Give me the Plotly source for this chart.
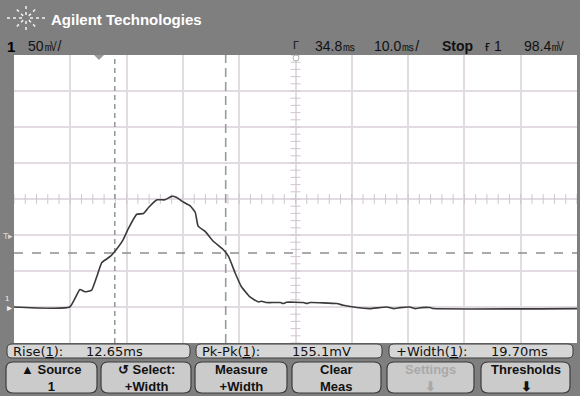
import plotly.graph_objects as go
import numpy as np

time_ms = [-15.2, -5.3, -3.5, -2.6, -1.4, -0.5, 0.4, 1.9, 2.7, 4.2, 5.1, 6.6, 7.8,
           8.7, 10.2, 11.6, 12.8, 13.7, 14.6, 16.1, 17.0, 17.5, 18.7, 20.2, 22.0,
           22.9, 24.1, 25.2, 26.7, 28.2, 28.8, 29.7, 32.1, 32.6, 33.2, 36.2, 36.8,
           37.4, 42.1, 43.3, 45.7, 48.0, 51.0, 52.2, 53.4, 55.1, 56.0, 57.2, 58.7,
           59.3, 84.8]
volt_mv = [0, 0, 24.4, 21.1, 23.5, 42.1, 61.8, 70.2, 77.2, 93.7, 108.7, 128.8, 129.8,
           138.2, 148.9, 148.9, 153.7, 152.2, 147.0, 140.4, 131.2, 112.4, 105.3, 91.3, 79.6,
           70.2, 46.9, 28.1, 14.0, 7.0, 8.0, 6.2, 6.2, 4.8, 6.6, 6.2, 4.8,
           6.2, 4.8, 2.4, -0.8, -2.2, 0, -2.2, -0.8, 0, -2.2, -0.8, -0.8,
           -2.2, -2.2]
cursor_times_ms = [2.7, 22.4]
threshold_mv = 75
trigger_level_mv = 98.4
delay_ms = 34.8
time_per_div = 10.0
volts_per_div = 50

title_text = "Agilent Technologies"
status_labels = ["50㎷/", "34.8㎳", "10.0㎳/", "Stop", "ғ 1", "98.4㎷"]
meas_labels = ["Rise(<u>1</u>):", "Pk-Pk(<u>1</u>):", "+Width(<u>1</u>):"]
meas_values = ["12.65ms", "155.1mV", "19.70ms"]
softkey_labels = ["▲ Source<br>1", "↺ Select:<br>+Width", "Measure<br>+Width",
                  "Clear<br>Meas", "Settings<br>⬇", "Thresholds<br>⬇"]

# ---------------- layout geometry (pixels) ----------------
W, H = 580, 396
L, R, T, B = 14, 577, 55, 343


def px(x):
    return (x - L) / (R - L)


def py(y):
    return (B - y) / (B - T)


def rrect(x0, y0, x1, y1, r):
    pts = [
        f"M {px(x0 + r)},{py(y0)}", f"L {px(x1 - r)},{py(y0)}",
        f"Q {px(x1)},{py(y0)} {px(x1)},{py(y0 + r)}", f"L {px(x1)},{py(y1 - r)}",
        f"Q {px(x1)},{py(y1)} {px(x1 - r)},{py(y1)}", f"L {px(x0 + r)},{py(y1)}",
        f"Q {px(x0)},{py(y1)} {px(x0)},{py(y1 - r)}", f"L {px(x0)},{py(y0 + r)}",
        f"Q {px(x0)},{py(y0)} {px(x0 + r)},{py(y0)}", "Z",
    ]
    return " ".join(pts)


x_lo = delay_ms - 5 * time_per_div
x_hi = delay_ms + 5 * time_per_div
y_lo = -1 * volts_per_div
y_hi = 7 * volts_per_div
x_c = delay_ms
y_c = (y_lo + y_hi) / 2


def ypix(v):
    return B - (v - y_lo) / (y_hi - y_lo) * (B - T)


fig = go.Figure()

# minor ticks on center graticule lines
hx = np.arange(x_lo, x_hi + 0.01, time_per_div / 5)
fig.add_trace(go.Scatter(x=hx, y=[y_c] * len(hx), mode="markers",
                         marker=dict(symbol="line-ns", size=7, line=dict(width=1, color="#cfc6cf")),
                         hoverinfo="skip", showlegend=False))
vy = np.arange(y_lo, y_hi + 0.01, volts_per_div / 5)
fig.add_trace(go.Scatter(x=[x_c] * len(vy), y=vy, mode="markers",
                         marker=dict(symbol="line-ew", size=7, line=dict(width=1, color="#cfc6cf")),
                         hoverinfo="skip", showlegend=False))

# threshold & cursors
fig.add_trace(go.Scatter(x=[x_lo, x_hi], y=[threshold_mv, threshold_mv], mode="lines",
                         line=dict(color="#8f8f8f", width=1.6, dash="9px,9px"),
                         hoverinfo="skip", showlegend=False))
fig.add_trace(go.Scatter(x=[cursor_times_ms[0]] * 2, y=[y_lo, y_hi], mode="lines",
                         line=dict(color="#9a9a9a", width=1.6, dash="5px,4px"),
                         hoverinfo="skip", showlegend=False))
fig.add_trace(go.Scatter(x=[cursor_times_ms[1]] * 2, y=[y_lo, y_hi], mode="lines",
                         line=dict(color="#9a9a9a", width=1.6, dash="9px,5px"),
                         hoverinfo="skip", showlegend=False))

# waveform
fig.add_trace(go.Scatter(x=time_ms, y=volt_mv, mode="lines",
                         line=dict(color="#3a3a3a", width=1.6, shape="spline", smoothing=0.4),
                         showlegend=False))

fig.update_layout(
    width=W, height=H,
    margin=dict(l=L, r=W - R, t=T, b=H - B),
    paper_bgcolor="#7f7f7f", plot_bgcolor="#ffffff",
    xaxis=dict(range=[x_lo, x_hi], tick0=delay_ms, dtick=time_per_div, showticklabels=False,
               showgrid=True, gridcolor="#e2dbe2", gridwidth=1.6, zeroline=False, ticks=""),
    yaxis=dict(range=[y_lo, y_hi], tick0=0, dtick=volts_per_div, showticklabels=False,
               showgrid=True, gridcolor="#e2dbe2", gridwidth=1.6, zeroline=False, ticks=""),
)

shapes = []
# bottom measurement bar boxes
meas_boxes = [(7, 344, 190, 358), (196, 344, 382, 358), (389, 344, 573, 358)]
for (a, b_, c, d) in meas_boxes:
    shapes.append(dict(type="path", path=rrect(a, b_, c, d, 5), xref="paper", yref="paper",
                       fillcolor="#d6d6d6", line=dict(color="#3c3c3c", width=1)))
# softkeys
key_boxes = [(6, 362, 97, 393), (101, 362, 191, 393), (195, 362, 287, 393),
             (292, 362, 381, 393), (387, 362, 474, 393), (481, 362, 570, 393)]
for (a, b_, c, d) in key_boxes:
    shapes.append(dict(type="path", path=rrect(a, b_, c, d, 7), xref="paper", yref="paper",
                       fillcolor="#cbcbcb", line=dict(color="#3c3c3c", width=1.2)))
# logo starburst
cx0, cy0 = 26, 18
for k in range(8):
    ang = k * np.pi / 4
    rx, ry = (20, 13) if k % 2 == 0 else (13, 12)
    shapes.append(dict(type="line", xref="paper", yref="paper",
                       x0=px(cx0 + 4 * np.cos(ang)), y0=py(cy0 + 3 * np.sin(ang)),
                       x1=px(cx0 + rx * np.cos(ang)), y1=py(cy0 + ry * np.sin(ang)),
                       line=dict(color="#f2f2f2", width=1.5, dash="dot")))
# trigger position marker at top (t = 0)
shapes.append(dict(type="path", xref="paper", yref="paper",
                   path=f"M {px(94)},{py(55)} L {px(104)},{py(55)} L {px(99)},{py(60)} Z",
                   fillcolor="#9a9a9a", line=dict(width=0)))
# delay marker circle at top center
shapes.append(dict(type="circle", xref="paper", yref="paper",
                   x0=px(293), x1=px(299), y0=py(55), y1=py(61),
                   line=dict(color="#b0b0b0", width=1), fillcolor="#ffffff"))
fig.update_layout(shapes=shapes)

ann = []


def add(text, x, y, size=13, color="#111111", family="Liberation Sans", xanchor="left",
        align="left"):
    ann.append(dict(text=text, x=px(x), y=py(y), xref="paper", yref="paper",
                    xanchor=xanchor, yanchor="middle", showarrow=False, align=align,
                    font=dict(size=size, color=color, family=family)))


add(f"<b>{title_text}</b>", 49, 19, size=15, color="#ffffff")
add("<b>1</b>", 5, 46, size=15, color="#000000")
status_x = [26, 313, 372, 440, 483, 522]
for lab, xx in zip(status_labels, status_x):
    txt = f"<b>{lab}</b>" if lab == "Stop" else lab
    add(txt, xx, 46, size=14, color="#111111")
add("Γ", 291, 45, size=11, color="#111111")

# left markers
add("T▸", 1, ypix(trigger_level_mv), size=9, color="#d8d8d8")
add("1", 3, ypix(0) - 9, size=8, color="#f0f0f0")
add("▸", 5, ypix(0), size=10, color="#f0f0f0")

meas_label_x = [11, 200, 394]
meas_value_x = [84, 290, 489]
for lab, val, lx, vx in zip(meas_labels, meas_values, meas_label_x, meas_value_x):
    add(lab, lx, 351, size=13, family="DejaVu Sans")
    add(val, vx, 351, size=13, family="DejaVu Sans")

for i, (lab, box) in enumerate(zip(softkey_labels, key_boxes)):
    col = "#a9a9a9" if lab.startswith("Settings") else "#111111"
    add(f"<b>{lab}</b>", (box[0] + box[2]) / 2, 377.5, size=13, color=col,
        xanchor="center", align="center")

fig.update_layout(annotations=ann)
fig.write_html("out.html", config={"displayModeBar": False},
               post_script="document.body.style.margin='0';document.body.style.overflow='hidden';")
